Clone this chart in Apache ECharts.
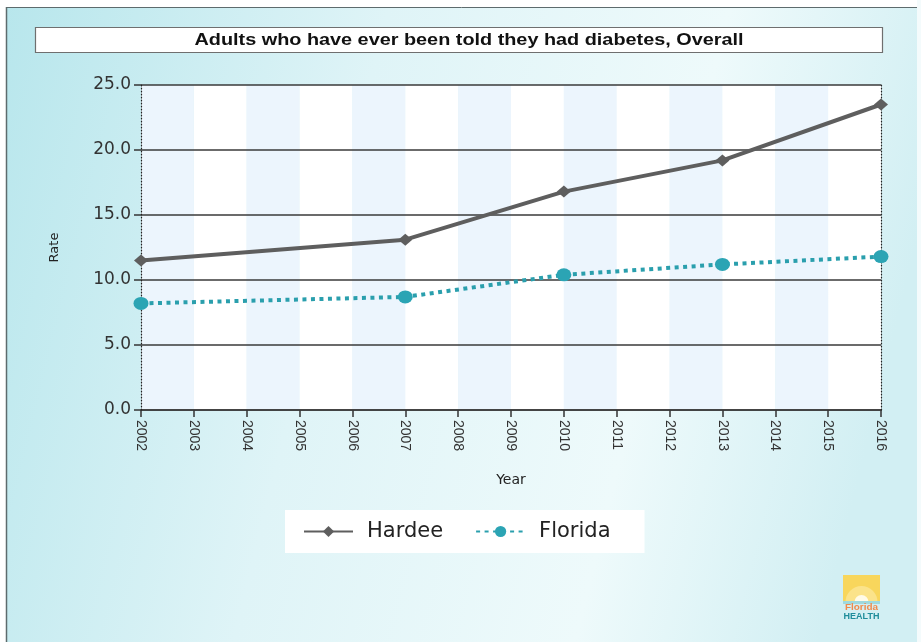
<!DOCTYPE html>
<html>
<head>
<meta charset="utf-8">
<script src="https://cdn.jsdelivr.net/npm/echarts@6/dist/echarts.min.js"></script>
<style>
  html, body { margin: 0; padding: 0; background: #fff; }
  #chart { width: 921px; height: 642px; }
</style>
</head>
<body>
<div id="chart"></div>
<script>
// Survey years and rates (%) of adults ever told they had diabetes
const years = [2002, 2007, 2010, 2013, 2016];
const hardee = [11.5, 13.1, 16.8, 19.2, 23.5];
const florida = [8.2, 8.7, 10.4, 11.2, 11.8];
const seriesNames = ['Hardee', 'Florida'];
const chartTitle = 'Adults who have ever been told they had diabetes, Overall';

const pairs = (vals) => years.map((y, i) => [y, vals[i]]);

const chart = echarts.init(document.getElementById('chart'));
chart.setOption({
  animation: false,
  backgroundColor: {
    type: 'linear', x: 0, y: 0, x2: 1, y2: 0.35,
    colorStops: [
      { offset: 0, color: '#b7e6ec' },
      { offset: 0.4, color: '#dff4f7' },
      { offset: 0.75, color: '#eefafb' },
      { offset: 1, color: '#d2eff3' }
    ]
  },
  graphic: [
    // white margins and the frame's top/left edges
    { type: 'rect', shape: { x: 0, y: 0, width: 921, height: 7 }, style: { fill: '#fff' } },
    { type: 'rect', shape: { x: 0, y: 0, width: 6, height: 642 }, style: { fill: '#fff' } },
    { type: 'rect', shape: { x: 917, y: 0, width: 4, height: 642 }, style: { fill: '#f4fbfc' } },
    { type: 'line', shape: { x1: 6, y1: 7.5, x2: 917, y2: 7.5 }, style: { stroke: '#5d6b6d', lineWidth: 1 } },
    { type: 'line', shape: { x1: 6.5, y1: 7, x2: 6.5, y2: 642 }, style: { stroke: '#5d6b6d', lineWidth: 1.5 } },
    // title box
    {
      type: 'rect',
      shape: { x: 35.5, y: 27.5, width: 847, height: 25 },
      style: { fill: '#fff', stroke: '#6f6f6f', lineWidth: 1.2 }
    },
    {
      type: 'text', x: 469, y: 41, scaleX: 1.24,
      style: {
        x: 0, y: 0, text: chartTitle, fill: '#111',
        align: 'center', verticalAlign: 'middle',
        font: 'bold 16px Arial, "Liberation Sans", sans-serif'
      }
    },
    // Florida Health logo
    {
      type: 'group', x: 843, y: 575,
      children: [
        { type: 'rect', shape: { x: 0, y: 0, width: 37, height: 27 }, style: { fill: '#f8d65c' } },
        { type: 'sector', shape: { cx: 18.5, cy: 27, r0: 0, r: 16, startAngle: Math.PI, endAngle: 2 * Math.PI }, style: { fill: '#fbe38a' } },
        { type: 'sector', shape: { cx: 18.5, cy: 27, r0: 0, r: 7, startAngle: Math.PI, endAngle: 2 * Math.PI }, style: { fill: '#fffbe8' } },
        { type: 'rect', shape: { x: 0, y: 26, width: 37, height: 3 }, style: { fill: '#9fd9de' } },
        { type: 'text', x: 18.5, y: 33, scaleX: 1.1, style: { x: 0, y: 0, text: 'Florida', align: 'center', verticalAlign: 'middle', fill: '#f08a4b', font: 'bold 9px Arial, sans-serif' } },
        { type: 'text', x: 18.5, y: 42, style: { x: 0, y: 0, text: 'HEALTH', align: 'center', verticalAlign: 'middle', fill: '#1f8d9b', font: 'bold 9px Arial, sans-serif' } }
      ]
    }
  ],
  legend: {
    data: seriesNames,
    left: 285, top: 510,
    padding: [11, 34, 11, 18],
    backgroundColor: '#fff',
    itemWidth: 49, itemHeight: 14,
    itemGap: 32,
    textStyle: {
      fontSize: 21, color: '#222', lineHeight: 21,
      padding: [0, 0, 0, 9],
      fontFamily: '"DejaVu Sans", Arial, sans-serif'
    }
  },
  grid: { left: 141, right: 40, top: 85, bottom: 232 },
  xAxis: {
    type: 'value', min: 2002, max: 2016, interval: 1,
    name: 'Year', nameLocation: 'middle', nameGap: 63,
    nameTextStyle: { fontSize: 14, color: '#222', fontFamily: '"DejaVu Sans", Arial, sans-serif' },
    axisLine: { show: true, onZero: false, lineStyle: { color: '#333', width: 1.5 } },
    axisTick: { show: true, length: 7, lineStyle: { color: '#333', width: 1.5 } },
    axisLabel: {
      rotate: -90, margin: 10, fontSize: 14, color: '#333',
      fontFamily: 'Arial, "Liberation Sans", sans-serif',
      formatter: (v) => String(v)
    },
    splitLine: { show: false },
    splitArea: { show: true, areaStyle: { color: ['#ecf5fd', '#ffffff'] } }
  },
  yAxis: [
    {
      type: 'value', min: 0, max: 25, interval: 5, z: 1,
      name: 'Rate', nameLocation: 'middle', nameGap: 80,
      nameTextStyle: { fontSize: 13, color: '#222', fontFamily: '"DejaVu Sans", Arial, sans-serif' },
      axisLine: { show: true, lineStyle: { color: '#222', type: [1, 2], width: 1.2 } },
      axisTick: { show: true, length: 7, lineStyle: { color: '#333', type: 'solid', width: 1.5 } },
      axisLabel: {
        fontSize: 17, color: '#333', margin: 10,
        fontFamily: '"DejaVu Sans", Arial, sans-serif',
        formatter: (v) => v.toFixed(1)
      },
      splitLine: { show: true, lineStyle: { color: '#3a3a3a', width: 1.5 } }
    },
    {
      type: 'value', min: 0, max: 25, interval: 5, position: 'right', z: 1,
      axisLine: { show: true, lineStyle: { color: '#222', type: [1, 2], width: 1.2 } },
      axisTick: { show: false },
      axisLabel: { show: false },
      splitLine: { show: false }
    }
  ],
  series: [
    {
      name: seriesNames[0], type: 'line', data: pairs(hardee),
      symbol: 'diamond', symbolSize: [14, 12],
      lineStyle: { color: '#5e5e5e', width: 4 },
      itemStyle: { color: '#5e5e5e' },
      z: 3
    },
    {
      name: seriesNames[1], type: 'line', data: pairs(florida),
      symbol: 'circle', symbolSize: [15, 13],
      lineStyle: { color: '#2a9fad', width: 4, type: [4, 4.5] },
      itemStyle: { color: '#2ba4b4' },
      z: 4
    }
  ]
});
</script>
</body>
</html>
